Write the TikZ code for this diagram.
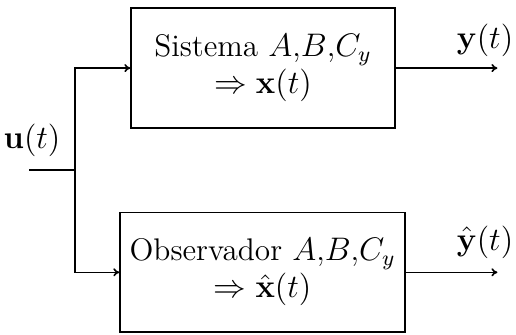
\documentclass[tikz,border=0pt]{standalone}
\usepackage{tikz}
\usetikzlibrary{arrows.meta,positioning,calc}

\begin{document}
\begin{tikzpicture}[font=\fontsize{11.5pt}{13.6pt}\selectfont,
  blk/.style={draw=black,semithick,align=center,inner xsep=2pt,minimum height=1.55cm},
  ln/.style={draw=black,semithick},
  ar/.style={ln,-{To[length=2.2pt,width=3pt]}}]
\useasboundingbox (0,0) rectangle (6.67,4.32);

\node[blk,minimum width=3.41cm] (sys) at (3.40,3.44) {Sistema $A$,$B$,$C_y$\\$\Rightarrow\mathbf{x}(t)$};
\node[blk,minimum width=3.685cm] (obs) at (3.395,0.80) {Observador $A$,$B$,$C_y$\\$\Rightarrow\hat{\mathbf{x}}(t)$};

\coordinate (in) at (0.375,2.12);
\coordinate (br) at (0.97,2.12);
\coordinate (ys) at (6.43,3.44);
\coordinate (yo) at (6.43,0.80);
\draw[ln] (in) -- (br);
\draw[ar] (br) |- (sys.west);
\draw[ar] (br) |- (obs.west);
\draw[ar] (sys.east) -- (ys);
\draw[ar] (obs.east) -- (yo);

\node (u) at (0.414,2.51) {$\mathbf{u}(t)$};
\node (y) at (6.27,3.80) {$\mathbf{y}(t)$};
\node (yh) at (6.27,1.19) {$\hat{\mathbf{y}}(t)$};
\end{tikzpicture}
\end{document}
